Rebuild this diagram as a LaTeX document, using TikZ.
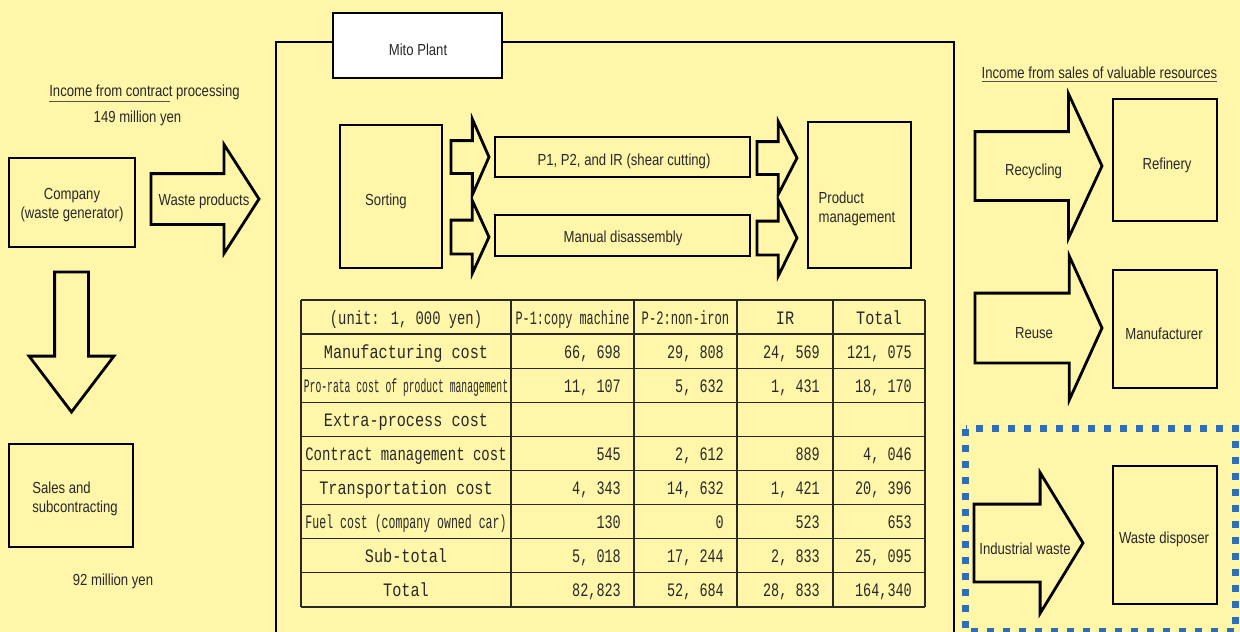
\documentclass[tikz,border=0pt]{standalone}
\usepackage{fontspec}
\setmainfont{Liberation Sans}[FakeStretch=0.82]
\newfontfamily\tabfont{Liberation Mono}[FakeStretch=0.8]
\newfontfamily\numfont{Liberation Mono}[FakeStretch=0.71]
\usepackage{graphicx}
\usetikzlibrary{shapes.arrows}
\definecolor{paper}{RGB}{255,246,170}
\definecolor{ink}{RGB}{40,40,40}
\definecolor{dotblue}{RGB}{46,110,182}
\newcommand{\squeeze}[2]{\scalebox{#1}[1]{#2}}
% one line of the cost table: row, label, P-1, P-2, IR, total
\newcommand{\costrow}[6]{%
  \node[rowlabel] (lab#1) at (406,{324+34.1*#1}) {#2};
  \node[cellnum] (pa#1) at (621,{324+34.1*#1}) {#3};
  \node[cellnum] (pb#1) at (724,{324+34.1*#1}) {#4};
  \node[cellnum] (ir#1) at (820,{324+34.1*#1}) {#5};
  \node[cellnum] (tot#1) at (912,{324+34.1*#1}) {#6};
}

\begin{document}
\begin{tikzpicture}[x=1pt, y=-1pt,
box/.style={draw=black, line width=2.8pt, inner sep=0pt},
lbl/.style={inner sep=0pt, yshift=-2pt, align=center, font=\fontsize{16}{19}\selectfont, text=ink},
flow/.style={single arrow, draw=black, line width=2.8pt, fill=paper, inner xsep=0pt, outer sep=0pt, single arrow head indent=0pt, anchor=tail},
grid/.style={draw=ink, line width=1.3pt},
rowlabel/.style={inner sep=0pt, anchor=base, font=\tabfont\fontsize{19}{21}\selectfont, text=ink},
cellnum/.style={inner sep=0pt, anchor=base east, font=\numfont\fontsize{19}{21}\selectfont, text=ink},
uline/.style={draw=ink!80, line width=1pt},
]
\fill[paper] (0,0) rectangle (1240,632);
\useasboundingbox (0,0) rectangle (1240,632);

%Left side
\node[lbl] (inc1) at (144.5,90) {Income from contract processing};
\draw[uline] ([yshift=-2pt]inc1.south west) -- ++(121,0);
\node[lbl] (yen149) at (137.5,116) {149 million yen};
\node[box, minimum width=126pt, minimum height=89pt] (company) at (72,202.5) {};
\node[lbl] (companytxt) at (72,203) {Company\\(waste generator)};
\node[flow, inner ysep=24pt, minimum height=108pt, minimum width=106pt, single arrow head extend=29pt, single arrow tip angle=114.6] (wastearr) at (151,199) {};
\node[lbl] (wastetxt) at (204,199.5) {Waste products};
\node[flow, rotate=-90, inner ysep=15.5pt, minimum height=140pt, minimum width=82pt, single arrow head extend=25.5pt, single arrow tip angle=74.4] (downarr) at (71.5,272) {};
\node[box, minimum width=124pt, minimum height=103pt] (sales) at (71,495.5) {};
\node[lbl, align=left] (salestxt) at (75,496.5) {Sales and\\subcontracting};
\node[lbl] (yen92) at (113,579) {92 million yen};

%Mito plant frame
\draw[line width=2.8pt] (276,660) -- (276,42) -- (954,42) -- (954,660);
\node[box, fill=white, minimum width=169pt, minimum height=65pt] (mito) at (417.5,45.5) {};
\node[lbl] (mitotxt) at (418,47.5) {Mito Plant};
\node[box, minimum width=102pt, minimum height=143pt] (sorting) at (391,196.5) {};
\node[lbl] (sortingtxt) at (386,199.5) {Sorting};
\node[box, minimum width=255pt, minimum height=40pt] (shear) at (622.5,157) {};
\node[lbl] (sheartxt) at (624,159.5) {P1, P2, and IR (shear cutting)};
\node[box, minimum width=255pt, minimum height=41pt] (manual) at (622.5,235.5) {};
\node[lbl] (manualtxt) at (623,236.5) {Manual disassembly};
\node[box, minimum width=103pt, minimum height=146pt] (prodmgmt) at (859.5,195) {};
\node[lbl, align=left] (prodmgmttxt) at (857,207) {Product\\management};

%Process arrows
\node[flow, inner ysep=15pt, minimum height=38pt, minimum width=73pt, single arrow head extend=21.5pt, single arrow tip angle=132.6] (toshear) at (451,157) {};
\node[flow, inner ysep=15.5pt, minimum height=38pt, minimum width=70pt, single arrow head extend=19.5pt, single arrow tip angle=130.8] (tomanual) at (451,237) {};
\node[flow, inner ysep=15pt, minimum height=40pt, minimum width=70pt, single arrow head extend=20pt, single arrow tip angle=125.6] (shearout) at (757,158) {};
\node[flow, inner ysep=15.5pt, minimum height=40pt, minimum width=73pt, single arrow head extend=21pt, single arrow tip angle=127.5] (manualout) at (757,238) {};

%Cost table
\foreach \k in {0,...,9}
  \draw[grid] (301,{300+34.1*\k}) -- (925,{300+34.1*\k});
\foreach \x in {301,511,634,737,833,925}
  \draw[grid] (\x,300) -- (\x,607);
\node[rowlabel] (unit) at (406,324) {\squeeze{0.91}{(unit: 1, 000 yen)}};
\node[rowlabel] (hpa) at (572.5,324) {\squeeze{0.78}{P-1:copy machine}};
\node[rowlabel] (hpb) at (685.5,324) {\squeeze{0.8}{P-2:non-iron}};
\node[rowlabel] (hir) at (785,324) {IR};
\node[rowlabel] (htot) at (879,324) {Total};
\costrow{1}{Manufacturing cost}{66, 698}{29, 808}{24, 569}{121, 075}
\costrow{2}{\squeeze{0.64}{Pro-rata cost of product management}}{11, 107}{5, 632}{1, 431}{18, 170}
\costrow{3}{Extra-process cost}{}{}{}{}
\costrow{4}{\squeeze{0.92}{Contract management cost}}{545}{2, 612}{889}{4, 046}
\costrow{5}{Transportation cost}{4, 343}{14, 632}{1, 421}{20, 396}
\costrow{6}{\squeeze{0.76}{Fuel cost (company owned car)}}{130}{0}{523}{653}
\costrow{7}{Sub-total}{5, 018}{17, 244}{2, 833}{25, 095}
\costrow{8}{Total}{82,823}{52, 684}{28, 833}{164,340}

%Right side
\node[lbl] (inc2) at (1099.5,71) {Income from sales of valuable resources};
\draw[uline] ([yshift=-2.5pt]inc2.south west) -- ([yshift=-2.5pt]inc2.south east);
\node[flow, inner ysep=33pt, minimum height=127pt, minimum width=142pt, single arrow head extend=38pt, single arrow tip angle=130.2] (recyarr) at (975,166) {};
\node[lbl] (recytxt) at (1033.5,169.5) {Recycling};
\node[box, minimum width=104pt, minimum height=122pt] (refinery) at (1165,160) {};
\node[lbl] (refinerytxt) at (1167,163.5) {Refinery};
\node[flow, inner ysep=33.5pt, minimum height=127pt, minimum width=141pt, single arrow head extend=37pt, single arrow tip angle=131.1] (reusearr) at (975,328) {};
\node[lbl] (reusetxt) at (1034,331.5) {Reuse};
\node[box, minimum width=104pt, minimum height=118pt] (maker) at (1165,329) {};
\node[lbl] (makertxt) at (1164,332) {Manufacturer};
\draw[dotblue, line width=6.5pt, dash pattern=on 7pt off 9pt] (965.5,428.5) rectangle (1235.5,631);
\node[flow, inner ysep=37.5pt, minimum height=109pt, minimum width=138pt, single arrow head extend=31.5pt, single arrow tip angle=117.3] (wastearr2) at (974,543) {};
\node[lbl] (indtxt) at (1025,546.5) {Industrial waste};
\node[box, minimum width=104pt, minimum height=138pt] (disposer) at (1165,535) {};
\node[lbl] (disposertxt) at (1164,537.5) {Waste disposer};
\end{tikzpicture}
\end{document}
